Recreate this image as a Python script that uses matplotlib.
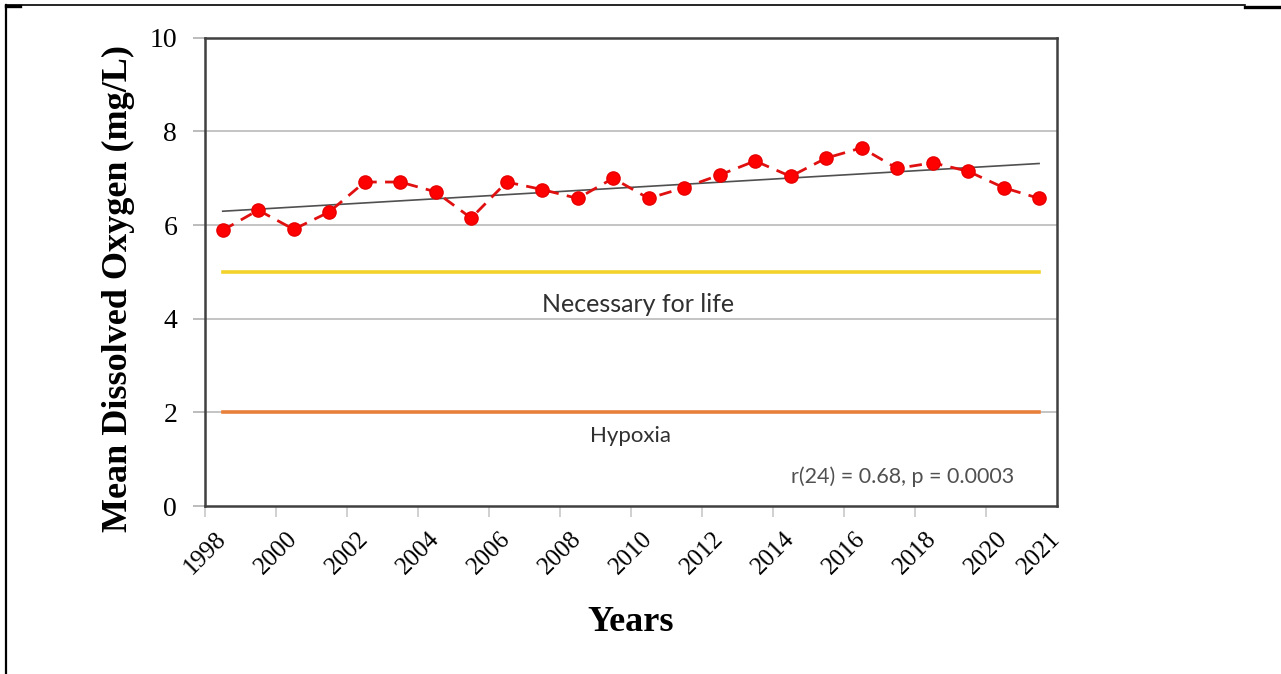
import numpy as np
import matplotlib.pyplot as plt
from matplotlib.lines import Line2D

# ------------------------ data ------------------------
years = list(range(1998, 2022))
mean_do = [5.89, 6.32, 5.91, 6.28, 6.92, 6.92, 6.71, 6.15, 6.92, 6.76, 6.57, 7.00,
           6.57, 6.80, 7.07, 7.37, 7.04, 7.43, 7.65, 7.21, 7.33, 7.15, 6.80, 6.57]
tick_years = [1998, 2000, 2002, 2004, 2006, 2008, 2010, 2012, 2014, 2016, 2018, 2020, 2021]
y_ticks = [0, 2, 4, 6, 8, 10]
life_level = 5
hypoxia_level = 2
stats_text = "r(24) = 0.68, p = 0.0003"

x = np.arange(len(years))
slope, intercept = np.polyfit(x, mean_do, 1)

# ------------------------ figure ------------------------
fig = plt.figure(figsize=(12.81, 6.74), dpi=100)
fig.patch.set_facecolor("white")
ax = fig.add_axes([0.160, 0.249, 0.665, 0.695])

# grid lines (drawn by hand so they stay under everything)
for yv in y_ticks[1:-1]:
    ax.axhline(yv, color="#c4c4c4", lw=1.4, zorder=0)

# threshold lines
ax.plot([x[0], x[-1]], [life_level, life_level], color="#f3d22c", lw=2.6,
        solid_capstyle="projecting", zorder=1)
ax.plot([x[0], x[-1]], [hypoxia_level, hypoxia_level], color="#e8803c", lw=2.6,
        solid_capstyle="projecting", zorder=1)

# trend line
ax.plot(x, intercept + slope * x, color="#505050", lw=1.2, zorder=2)

# data
ax.plot(x, mean_do, color="#e01010", lw=2.0, ls=(0, (4.5, 3)), zorder=3)
ax.plot(x, mean_do, ls="none", marker="o", ms=9.5, mfc="#ff0000", mec="#e80000", zorder=4)

# text labels
ax.text(11.7, 4.3, "Necessary for life", family="Lato", fontsize=18, color="#303030",
        ha="center", va="center")
ax.text(11.5, 1.5, "Hypoxia", family="Lato", fontsize=16, color="#303030",
        ha="center", va="center")
ax.text(22.3, 0.62, stats_text, family="Lato", fontsize=15.5, color="#505050",
        ha="right", va="center")

# axes
ax.set_xlim(-0.5, len(years) - 0.5)
ax.set_ylim(0, 10)
ax.set_yticks(y_ticks)
ax.set_yticklabels([str(v) for v in y_ticks], family="Liberation Serif", fontsize=20)
ax.tick_params(axis="y", length=9, width=1.2, color="#b0b0b0", pad=11)

tick_pos = [years.index(yr) for yr in tick_years[:-1]] + [len(years) - 0.5]
ax.set_xticks(tick_pos)
ax.set_xticklabels([str(yr) for yr in tick_years], family="Liberation Serif", fontsize=18,
                   rotation=45, ha="right", va="center", rotation_mode="anchor")
ax.tick_params(axis="x", which="major", length=0, pad=21)
ax.set_xticks(np.arange(-0.5, len(years), 2), minor=True)
ax.tick_params(axis="x", which="minor", length=8, width=1.2, color="#c8c8c8")

for sp in ax.spines.values():
    sp.set_color("#404040")
    sp.set_linewidth(1.8)

ax.set_ylabel("Mean Dissolved Oxygen (mg/L)", family="Liberation Serif", fontsize=26,
              fontweight="bold")
ax.yaxis.set_label_coords(-0.082, 0.465)
ax.set_xlabel("Years", family="Liberation Serif", fontsize=26, fontweight="bold")
ax.xaxis.set_label_coords(0.50, -0.214)

# outer frame pieces (table cell border)
fig.add_artist(Line2D([6 / 1281, 6 / 1281], [0, 1 - 5 / 674], transform=fig.transFigure,
                      color="black", lw=1.6))
fig.add_artist(Line2D([6 / 1281, 1245 / 1281], [1 - 5 / 674, 1 - 5 / 674],
                      transform=fig.transFigure, color="black", lw=1.2))
fig.add_artist(Line2D([6 / 1281, 20 / 1281], [1 - 6 / 674, 1 - 6 / 674],
                      transform=fig.transFigure, color="black", lw=2.4))
fig.add_artist(Line2D([1245 / 1281, 1], [1 - 6.5 / 674, 1 - 6.5 / 674],
                      transform=fig.transFigure, color="black", lw=2.4))

fig.savefig("out.png", dpi=100, facecolor="white")
